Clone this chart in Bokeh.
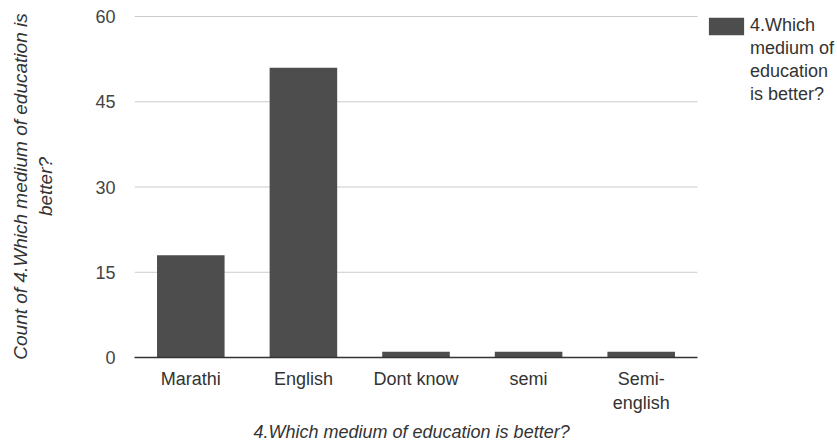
from bokeh.plotting import figure
from bokeh.models import ColumnDataSource, FixedTicker, Legend, LegendItem, Range1d, Title
from bokeh.embed import file_html
from bokeh.resources import INLINE

categories = ["Marathi", "English", "Dont know", "semi", "Semi-\nenglish"]
counts = [18, 51, 1, 1, 1]
y_ticks = [0, 15, 30, 45, 60]
series_name = "4.Which medium of education is better?"
y_title = "Count of 4.Which medium of education is\nbetter?"
legend_lines = ["4.Which", "medium of", "education", "is better?"]

FONT = "Liberation Sans"
BAR = "#4d4d4d"

W, H = 837, 446
# layout (pixels): plot area spans x 134..697, y 16..357; legend sits to the right
PL, PR, PT, PB = 134, 697, 16, 357
FRAME_TOP = 15
n = len(categories)
ppx = (PR - PL) / n                       # pixels per category
ppy = (PB - PT) / max(y_ticks)            # pixels per unit
x_lo = -0.5
x_hi = x_lo + (W - PL) / ppx
y_hi = max(y_ticks) + (PT - FRAME_TOP) / ppy

p = figure(x_range=Range1d(x_lo, x_hi), y_range=Range1d(0, y_hi), width=W, height=H,
           output_backend="svg", toolbar_location=None,
           min_border_left=PL, min_border_right=0,
           min_border_top=FRAME_TOP, min_border_bottom=H - PB)
p.outline_line_color = None
p.xgrid.grid_line_color = None
p.ygrid.grid_line_color = None

idx = list(range(n))
src = ColumnDataSource(dict(x=idx, cat=categories, n=counts))

# horizontal gridlines, limited to the plot area
grid_y = [t for t in y_ticks if t != 0]
p.segment(x0=[x_lo] * len(grid_y), x1=[n - 0.5] * len(grid_y), y0=grid_y, y1=grid_y,
          line_color="#cccccc", line_width=1)

r = p.vbar(x="x", top="n", width=0.6, source=src, fill_color=BAR, line_color=None)
blank = p.vbar(x="x", top="n", width=0.6, source=ColumnDataSource(dict(x=[], n=[])),
               fill_alpha=0, line_alpha=0)

p.yaxis.ticker = FixedTicker(ticks=y_ticks)
p.yaxis.axis_line_color = None
p.yaxis.major_tick_line_color = None
p.yaxis.minor_tick_line_color = None
p.yaxis.major_tick_out = 0
p.yaxis.major_label_standoff = 19
p.yaxis.major_label_text_font = FONT
p.yaxis.major_label_text_font_size = "18px"
p.yaxis.major_label_text_color = "#444444"
p.yaxis.axis_label = y_title
p.yaxis.axis_label_standoff = 36
p.yaxis.axis_label_text_font = FONT
p.yaxis.axis_label_text_font_size = "19px"
p.yaxis.axis_label_text_font_style = "italic"
p.yaxis.axis_label_text_color = "#333333"
p.yaxis.axis_label_text_align = "center"

p.xaxis.ticker = FixedTicker(ticks=idx)
p.xaxis.major_label_overrides = {i: c for i, c in zip(idx, categories)}
p.xaxis.bounds = (x_lo, n - 0.5)
p.xaxis.axis_line_color = "#333333"
p.xaxis.axis_line_width = 1.5
p.xaxis.major_tick_line_color = None
p.xaxis.minor_tick_line_color = None
p.xaxis.major_tick_out = 0
p.xaxis.major_label_standoff = 11
p.xaxis.major_label_text_font = FONT
p.xaxis.major_label_text_font_size = "18px"
p.xaxis.major_label_text_color = "#333333"

# x-axis title, centred under the plot area (not under the legend)
p.add_layout(Title(text=series_name, align="left", offset=119, standoff=8,
                   text_font=FONT, text_font_size="18px", text_font_style="italic",
                   text_color="#333333"), "below")

# legend: glyph box is drawn inset by 10% of the glyph area on each side
items = [LegendItem(label=legend_lines[0], renderers=[r])]
items += [LegendItem(label=t, renderers=[blank]) for t in legend_lines[1:]]
legend = Legend(items=items, location=(704 - PL, PB - 14 - 23 * len(legend_lines)),
                glyph_width=44, glyph_height=22,
                label_height=23, label_text_font=FONT, label_text_font_size="18px",
                label_text_color="#333333", border_line_color=None,
                background_fill_alpha=0, label_standoff=2, padding=0, margin=0, spacing=0)
p.add_layout(legend)

open("out.html", "w").write(file_html(p, INLINE))
